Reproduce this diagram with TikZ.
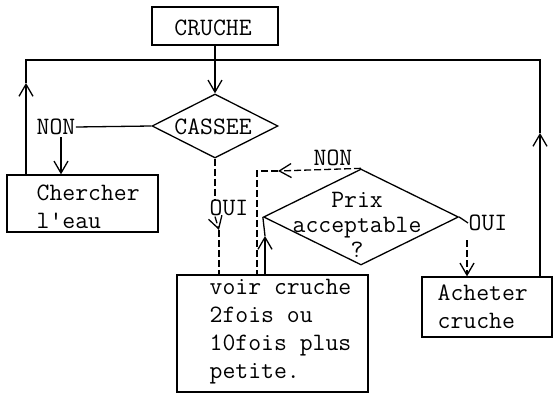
\documentclass[tikz,border=0pt]{standalone}
\usetikzlibrary{shapes.geometric,arrows.meta}
\begin{document}
\begin{tikzpicture}[x=1pt,y=-1pt,line width=1.3pt,
  txt/.style={font=\ttfamily\fontsize{25}{28}\selectfont,inner sep=0pt},
  box/.style={draw,inner sep=0pt},
  dia/.style={draw,diamond,inner sep=0pt},
  arr/.style={-{Straight Barb[length=12pt,width=14pt]}},
  dsh/.style={dash pattern=on 7pt off 3pt}]
\useasboundingbox (0,0) rectangle (554,396);
% boxes
\node[box,minimum width=126pt,minimum height=38pt] (cruche) at (215,26) {};
\node[txt] (cruchet) at (213,28) {CRUCHE};
\node[dia,minimum width=126pt,minimum height=64pt] (cassee) at (215,126) {};
\node[txt] (casseet) at (213,127) {CASSEE};
\node[box,minimum width=151pt,minimum height=57pt] (ch) at (82.5,203.5) {};
\node[txt,anchor=west,align=left] (cht) at (36,207) {Chercher\\l'eau};
\node[box,minimum width=191pt,minimum height=117pt] (voir) at (272.5,333.5) {};
\node[txt,anchor=west,align=left] (voirt) at (209,332) {voir cruche\\2fois ou\\10fois plus\\petite.};
\node[dia,minimum width=195pt,minimum height=96pt] (prix) at (361,217) {};
\node[txt,align=center,font=\ttfamily\fontsize{25}{25}\selectfont] (prixt) at (357,225) {Prix\\acceptable\\?};
\node[box,minimum width=130pt,minimum height=60pt] (ach) at (487,307) {};
\node[txt,anchor=west,align=left] (acht) at (437,307) {Acheter\\cruche};
% labels
\node[txt] (nonA) at (56,127) {NON};
\node[txt] (ouiA) at (229,208) {OUI};
\node[txt] (nonB) at (333,158) {NON};
\node[txt] (ouiB) at (488,223) {OUI};
% coordinates
\coordinate (tl) at (26,60);
\coordinate (tr) at (540,60);
\coordinate (la) at (26,83);
\coordinate (ra) at (540,133);
\coordinate (oa) at (219,230);
\coordinate (nb) at (278,171);
\coordinate (nbc) at (257,171);
\coordinate (va) at (265,236);
\coordinate (ob) at (467,240);
\coordinate (na) at (61,137);
% connectors
\draw[arr] (cruche.south) -- (cassee.north);
\draw[arr] (ch.north -| la) -- (la);
\draw (la) -- (tl) -- (tr) -- (ra);
\draw[arr] (ach.north -| ra) -- (ra);
\draw (cassee.west) -- (nonA.east);
\draw[arr] (na) -- (na |- ch.north);
\draw[dsh] (cassee.south) -- (cassee.south |- ouiA.north);
\draw[dsh,arr] (cassee.south |- ouiA.south) -- (oa);
\draw[dsh] (oa) -- (oa |- voir.north);
\draw[dsh,arr] (prix.north) -- (nb);
\draw[dsh] (nb) -- (nbc) -- (nbc |- voir.north);
\draw[arr] (va |- voir.north) -- (va);
\draw (va) -- (prix.west);
\draw (prix.east) -- (ouiB.west);
\draw[dsh,arr] (ob) -- (ob |- ach.north);
\end{tikzpicture}
\end{document}
